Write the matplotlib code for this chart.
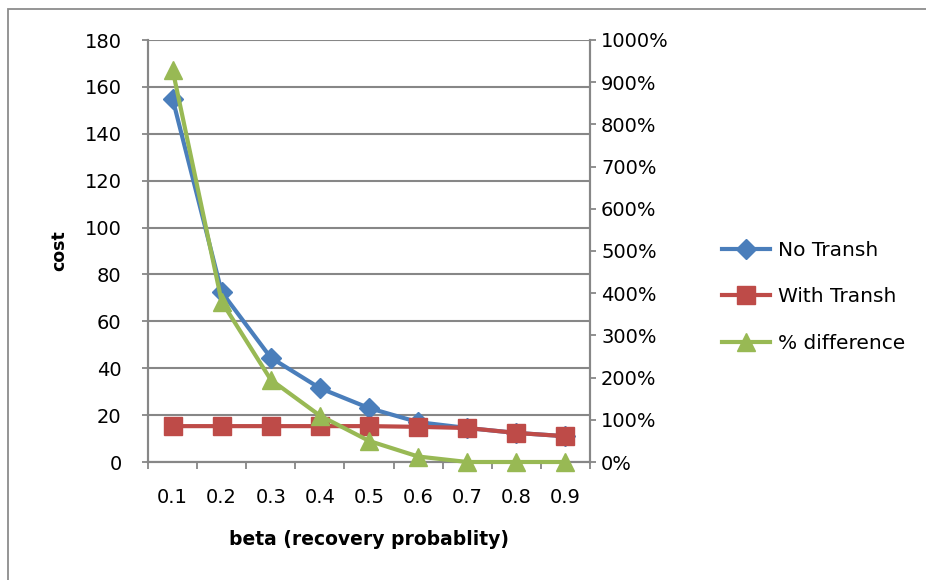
import matplotlib.pyplot as plt
from matplotlib.patches import Rectangle
from matplotlib.ticker import FuncFormatter, FixedLocator

plt.rcParams['font.family'] = ['DejaVu Sans']

# beta values on the category axis
beta = ['0.1', '0.2', '0.3', '0.4', '0.5', '0.6', '0.7', '0.8', '0.9']
# cost without / with transhipment
no_transh = [155, 72.5, 44.5, 31.5, 23, 17, 14.5, 12.4, 11]
with_transh = [15.3, 15.3, 15.3, 15.3, 15.3, 15, 14.5, 12.4, 11]
# relative difference (1.0 = 100%)
pct_diff = [9.3, 3.8, 1.95, 1.1, 0.5, 0.13, 0, 0, 0]

BLUE = '#4a7ebb'
RED = '#be4b48'
GREEN = '#98b954'
GRID = '#878787'

fig = plt.figure(figsize=(9.26, 5.8), dpi=100)
ax = fig.add_axes([148 / 926, 1 - 462 / 580, 442 / 926, 422 / 580])
ax2 = ax.twinx()

# outer chart border
fig.patches.append(Rectangle((8 / 926, -0.5), 2, 0.5 + 1 - 9 / 580,
                             transform=fig.transFigure, fill=False,
                             edgecolor='#8c8c8c', lw=1.3))

x = list(range(len(beta)))
l1, = ax.plot(x, no_transh, color=BLUE, lw=3, marker='D', ms=10.5,
              label='No Transh', zorder=3)
l2, = ax.plot(x, with_transh, color=RED, lw=3, marker='s', ms=12.5,
              label='With Transh', zorder=4)
l3, = ax2.plot(x, pct_diff, color=GREEN, lw=3, marker='^', ms=13,
               label='% difference', zorder=5, clip_on=False)

ax.set_zorder(ax2.get_zorder() - 1)
ax.patch.set_visible(False)

ax.set_xlim(-0.5, len(beta) - 0.5)
ax.set_ylim(0, 180)
ax.set_yticks(range(0, 181, 20))
ax2.set_ylim(0, 10)
ax2.set_yticks(range(0, 11))
ax2.yaxis.set_major_formatter(FuncFormatter(lambda v, p: f'{v * 100:.0f}%'))

ax.set_xticks(x)
ax.set_xticklabels(beta)
ax.xaxis.set_minor_locator(FixedLocator([i - 0.5 for i in range(len(beta) + 1)]))
ax.tick_params(axis='x', which='major', length=0, pad=19, labelsize=14)
ax.tick_params(axis='x', which='minor', length=5, width=1.3, color=GRID,
               direction='out')
ax.tick_params(axis='y', length=4, width=1.3, color=GRID, pad=15,
               labelsize=14)
ax2.tick_params(axis='y', length=4, width=1.3, color=GRID, pad=4,
                labelsize=14)

ax.grid(axis='y', color=GRID, lw=1.5)
ax.set_axisbelow(True)
for a in (ax, ax2):
    a.spines['top'].set_visible(False)
    for s in ('left', 'right', 'bottom'):
        a.spines[s].set_color(GRID)
        a.spines[s].set_linewidth(1.5)

ax.set_ylabel('cost', fontsize=12.5, fontweight='bold', labelpad=12)
ax.set_xlabel('beta (recovery probablity)', fontsize=13.5,
              fontweight='bold', labelpad=16)

fig.legend(handles=[l1, l2, l3], loc='center left',
           bbox_to_anchor=(714 / 926, 1 - 297 / 580), frameon=False,
           fontsize=14.5, handlelength=2.4, handletextpad=0.4,
           labelspacing=1.35, borderaxespad=0)

fig.savefig('out.png', dpi=100)
